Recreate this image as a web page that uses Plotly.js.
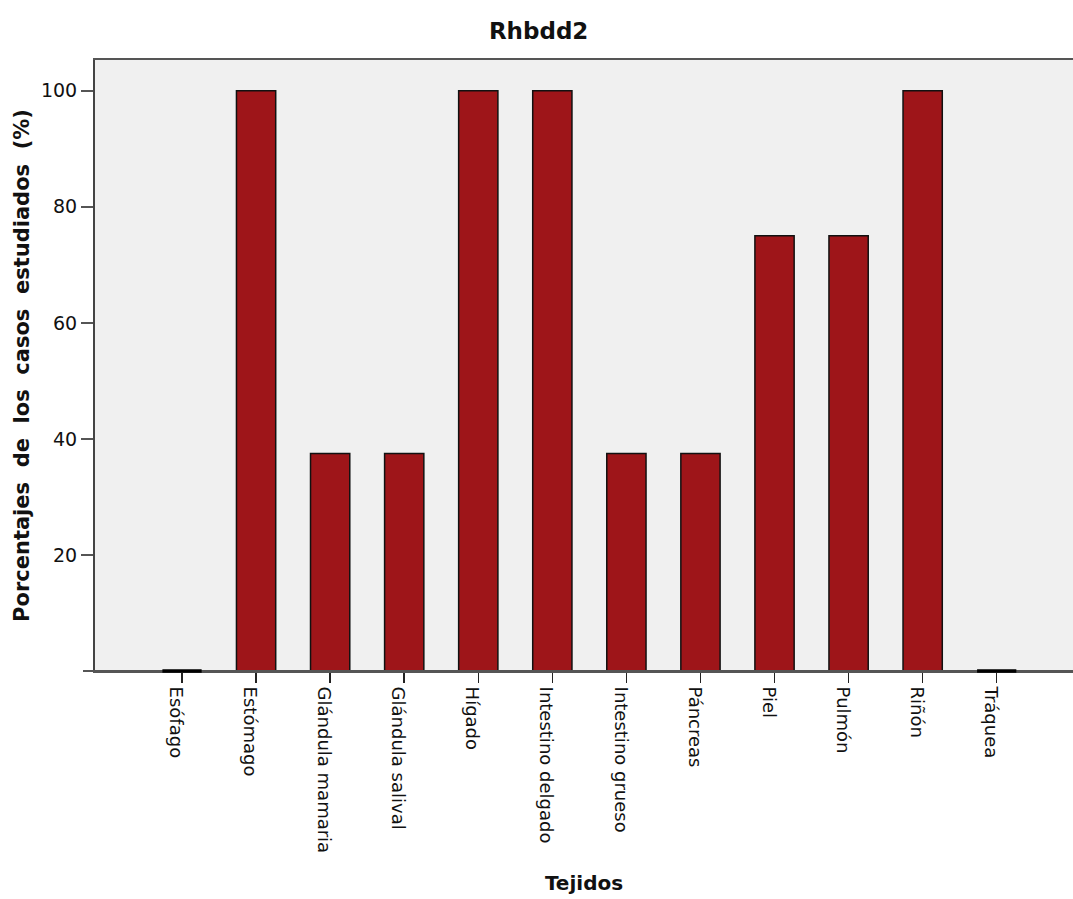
<!DOCTYPE html>
<html>
<head>
<meta charset="utf-8">
<script src="https://cdn.plot.ly/plotly-3.0.1.min.js"></script>
<style>body{margin:0;background:#fff}#chart{width:1073px;height:899px}</style>
</head>
<body>
<div id="chart"></div>
<script>
const categories = ["Esófago","Estómago","Glándula mamaria","Glándula salival","Hígado","Intestino delgado","Intestino grueso","Páncreas","Piel","Pulmón","Riñón","Tráquea"];
const values = [0,100,37.5,37.5,100,100,37.5,37.5,75,75,100,0];
const yTicks = [20,40,60,80,100];

const barWidth = 0.53;
const sp = '\u00a0\u00a0';
const yTitle = ['Porcentajes','de','los','casos','estudiados','(%)'].join(sp);

const zeroShapes = [];
values.forEach((v,i)=>{
  if(v===0){
    zeroShapes.push({type:'line',xref:'x',yref:'paper',x0:i-barWidth/2,x1:i+barWidth/2,y0:0,y1:0,line:{color:'#000',width:3.5}});
  }
});

const trace = {
  type:'bar', x:categories, y:values, width:barWidth,
  marker:{color:'#9e1519', line:{color:'#111', width:1.5}},
  hoverinfo:'skip'
};
const layout = {
  width:1073, height:899,
  margin:{l:95,r:0,t:60,b:228},
  paper_bgcolor:'#fff', plot_bgcolor:'#f0f0f0',
  showlegend:false,
  title:{text:'<b>Rhbdd2</b>', x:0.502, xanchor:'center', y:0.966, yanchor:'middle',
         font:{family:'DejaVu Sans, sans-serif', size:23, color:'#111'}},
  xaxis:{type:'category', range:[-1.175,12.03], tickangle:90,
         ticks:'outside', ticklen:10, tickwidth:1.5, tickcolor:'#222',
         ticklabelshift:-6,
         tickfont:{family:'DejaVu Sans, sans-serif', size:18, color:'#111'},
         showline:true, linecolor:'#555', linewidth:2, mirror:true,
         showgrid:false, zeroline:false, fixedrange:true,
         title:{text:'<b>Tejidos</b>', standoff:24, font:{family:'DejaVu Sans, sans-serif', size:20, color:'#111'}}},
  yaxis:{range:[0,105.3], tickvals:yTicks, ticktext:yTicks.map(String),
         ticks:'outside', ticklen:12, tickwidth:2, tickcolor:'#555',
         tickfont:{family:'DejaVu Sans, sans-serif', size:19, color:'#111'},
         showline:true, linecolor:'#444', linewidth:2,
         showgrid:false, zeroline:false, fixedrange:true,
         title:{text:'<b>'+yTitle+'</b>', standoff:6, font:{family:'DejaVu Sans, sans-serif', size:21, color:'#111'}}},
  shapes:[
    {type:'line',xref:'paper',yref:'paper',x0:-12/978,x1:1,y0:0,y1:0,line:{color:'#555',width:2}}
  ].concat(zeroShapes)
};
Plotly.newPlot('chart',[trace],layout,{displayModeBar:false,staticPlot:true});
</script>
</body>
</html>
